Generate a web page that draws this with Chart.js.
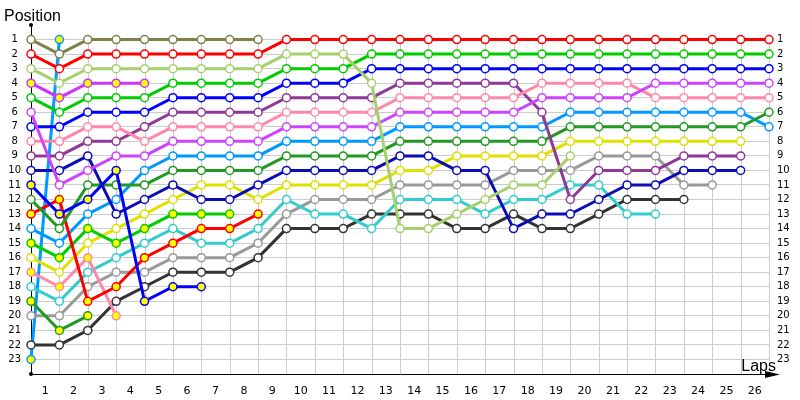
<!DOCTYPE html>
<html>
<head>
<meta charset="utf-8">
<script src="https://cdn.jsdelivr.net/npm/chart.js@4/dist/chart.umd.min.js"></script>
<style>
  html, body { margin: 0; padding: 0; background: #fff; }
  #wrap { width: 800px; height: 400px; }
</style>
</head>
<body>
<div id="wrap"><canvas id="lapChart" width="800" height="400"></canvas></div>
<script>
// Lap chart: position of every car at the end of each lap (lap 0 = grid)
const laps = [0,1,2,3,4,5,6,7,8,9,10,11,12,13,14,15,16,17,18,19,20,21,22,23,24,25,26];
const positionTicks = [1,2,3,4,5,6,7,8,9,10,11,12,13,14,15,16,17,18,19,20,21,22,23];

// one array per car, index = lap, array ends when the car retires
const olive      = [1,2,1,1,1,1,1,1,1];
const red        = [2,3,2,2,2,2,2,2,2,1,1,1,1,1,1,1,1,1,1,1,1,1,1,1,1,1,1];
const lightGreen = [3,4,3,3,3,3,3,3,3,2,2,2,4,14,14,13,12,11,11,9];
const magenta    = [4,5,4,4,4];
const green      = [5,6,5,5,5,4,4,4,4,3,3,3,2,2,2,2,2,2,2,2,2,2,2,2,2,2,2];
const violet     = [6,11,10,9,9,8,8,8,8,7,7,7,7,6,6,6,6,6,5,5,5,5,4,4,4,4,4];
const blue       = [7,7,6,6,6,5,5,5,5,4,4,4,3,3,3,3,3,3,3,3,3,3,3,3,3,3,3];
const pink       = [8,8,7,7,8,7,7,7,7,6,6,6,6,5,5,5,5,5,4,4,4,4,5,5,5,5,5];
const purple     = [9,9,8,8,7,6,6,6,6,5,5,5,5,4,4,4,4,4,6,12,10,10,10,9,9,9];
const darkBlue   = [10,10,9,13,12,11,12,12,11,10,10,10,10,9,9,10,10,14,13,13,12,11,11,10,10,10];
const blue2      = [11,13,12,10,19,18,18];
const darkGreen  = [12,14,11,11,11,10,10,10,10,9,9,9,9,8,8,8,8,8,8,7,7,7,7,7,7,7,6];
const red2       = [13,12,19,18,16,15,14,14,13];
const lightBlue  = [14,15,13,12,10,9,9,9,9,8,8,8,8,7,7,7,7,7,7,6,6,6,6,6,6,6,7];
const green2     = [15,16,14,15,14,13,13,13];
const yellow     = [16,17,15,14,13,12,11,11,12,11,11,11,11,10,10,9,9,9,9,8,8,8,8,8,8,8];
const pink2      = [17,18,16,20];
const cyan       = [18,19,17,16,15,14,15,15,14,12,13,13,14,12,12,12,13,12,12,11,11,13,13];
const darkGreen2 = [19,21,20];
const gray       = [20,20,18,17,17,16,16,16,15,13,12,12,12,11,11,11,11,10,10,10,9,9,9,11,11];
const darkGray   = [22,22,21,19,18,17,17,17,16,14,14,14,13,13,13,14,14,13,14,14,13,12,12,12];
const skyBlue    = [23,1];

const FONT = 'Tahoma, "DejaVu Sans", sans-serif';
const TITLE_FONT = '"Liberation Sans", Arial, sans-serif';

// [data, line colour, point fill]
const cars = [
  [olive,      '#80804c', '#ffffff'],
  [red,        '#ff0000', '#ffffff'],
  [lightGreen, '#a6d06c', '#ffffff'],
  [magenta,    '#cc33ff', '#ffff00'],
  [green,      '#00cc00', '#ffffff'],
  [violet,     '#cc44ff', '#ffffff'],
  [blue,       '#0000ff', '#ffffff'],
  [pink,       '#ff88aa', '#ffffff'],
  [purple,     '#90389a', '#ffffff'],
  [darkBlue,   '#0c0cb4', '#ffffff'],
  [blue2,      '#0000ff', '#ffff00'],
  [darkGreen,  '#229922', '#ffffff'],
  [red2,       '#ff0000', '#ffff00'],
  [lightBlue,  '#0099ff', '#ffffff'],
  [green2,     '#00cc00', '#ffff00'],
  [yellow,     '#e0e000', '#ffffff'],
  [pink2,      '#ff88aa', '#ffff00'],
  [cyan,       '#33cccc', '#ffffff'],
  [darkGreen2, '#229922', '#ffff00'],
  [gray,       '#999999', '#ffffff'],
  [darkGray,   '#333333', '#ffffff'],
  [skyBlue,    '#0099ff', '#ffff00']
];

const datasets = cars.map(([vals, col, fill]) => ({
  data: vals.map((p, i) => ({ x: laps[i], y: p })),
  borderColor: col,
  backgroundColor: col,
  borderWidth: 3,
  pointRadius: 4,
  pointBorderWidth: 1.5,
  pointBorderColor: col,
  pointBackgroundColor: fill,
  tension: 0,
  clip: false
}));

// extra drawing: vertical grid, axis dots/arrow, axis titles
const decorations = {
  id: 'decorations',
  beforeDatasetsDraw(chart) {
    const { ctx, scales: { x, y } } = chart;
    ctx.save();
    ctx.strokeStyle = '#cccccc';
    ctx.lineWidth = 1;
    laps.forEach(l => {
      if (l === 0) return;
      const px = Math.round(x.getPixelForValue(l)) + 0.5;
      ctx.beginPath();
      ctx.moveTo(px, y.getPixelForValue(1));
      ctx.lineTo(px, y.getPixelForValue(24));
      ctx.stroke();
    });
    ctx.restore();
  },
  afterDraw(chart) {
    const { ctx, chartArea: a } = chart;
    ctx.save();
    ctx.fillStyle = '#000';
    ctx.strokeStyle = '#000';
    // dots at top of y axis and origin
    [[a.left, a.top], [a.left, a.bottom]].forEach(([px, py]) => {
      ctx.beginPath();
      ctx.arc(px, py, 2, 0, Math.PI * 2);
      ctx.fill();
    });
    // x axis runs past the last lap and ends with an arrow
    ctx.lineWidth = 1;
    ctx.beginPath();
    ctx.moveTo(a.right, a.bottom + 0.5);
    ctx.lineTo(772, a.bottom + 0.5);
    ctx.stroke();
    ctx.beginPath();
    ctx.moveTo(780, a.bottom + 0.5);
    ctx.lineTo(765, a.bottom - 3);
    ctx.lineTo(765, a.bottom + 4);
    ctx.closePath();
    ctx.fill();
    ctx.font = '16px ' + TITLE_FONT;
    ctx.textBaseline = 'alphabetic';
    ctx.textAlign = 'left';
    ctx.fillText('Position', 4, 21);
    ctx.textAlign = 'right';
    ctx.fillText('Laps', 776, 371);
    ctx.restore();
  }
};

const posLabel = v => (v >= 1 && v <= 23 ? String(v) : '');

new Chart(document.getElementById('lapChart'), {
  type: 'line',
  data: { datasets },
  plugins: [decorations],
  options: {
    responsive: false,
    animation: false,
    layout: { padding: { top: 25 } },
    plugins: { legend: { display: false }, tooltip: { enabled: false } },
    scales: {
      x: {
        type: 'linear',
        min: 0,
        max: 26,
        afterFit: s => { s.height = 26; },
        grid: { display: false },
        border: { color: '#000' },
        ticks: {
          stepSize: 1,
          autoSkip: false,
          maxRotation: 0,
          labelOffset: -14.2,
          padding: 3,
          color: '#000',
          font: { family: FONT, size: 11 },
          callback: v => (v >= 1 ? String(v) : '')
        }
      },
      y: {
        min: 0,
        max: 24,
        reverse: true,
        afterFit: s => { s.width = 31; },
        grid: {
          drawTicks: false,
          color: c => (c.tick.value >= 1 && c.tick.value <= 23 ? '#cccccc' : 'rgba(0,0,0,0)')
        },
        border: { color: '#000' },
        ticks: {
          stepSize: 1,
          autoSkip: false,
          crossAlign: 'center',
          padding: 10,
          color: '#000',
          font: { family: FONT, size: 10 },
          callback: posLabel
        }
      },
      y2: {
        position: 'right',
        min: 0,
        max: 24,
        reverse: true,
        afterFit: s => { s.width = 31; },
        grid: { display: false, drawTicks: false },
        border: { display: false },
        ticks: {
          stepSize: 1,
          autoSkip: false,
          padding: 8,
          color: '#000',
          font: { family: FONT, size: 10 },
          callback: posLabel
        }
      }
    }
  }
});
</script>
</body>
</html>
